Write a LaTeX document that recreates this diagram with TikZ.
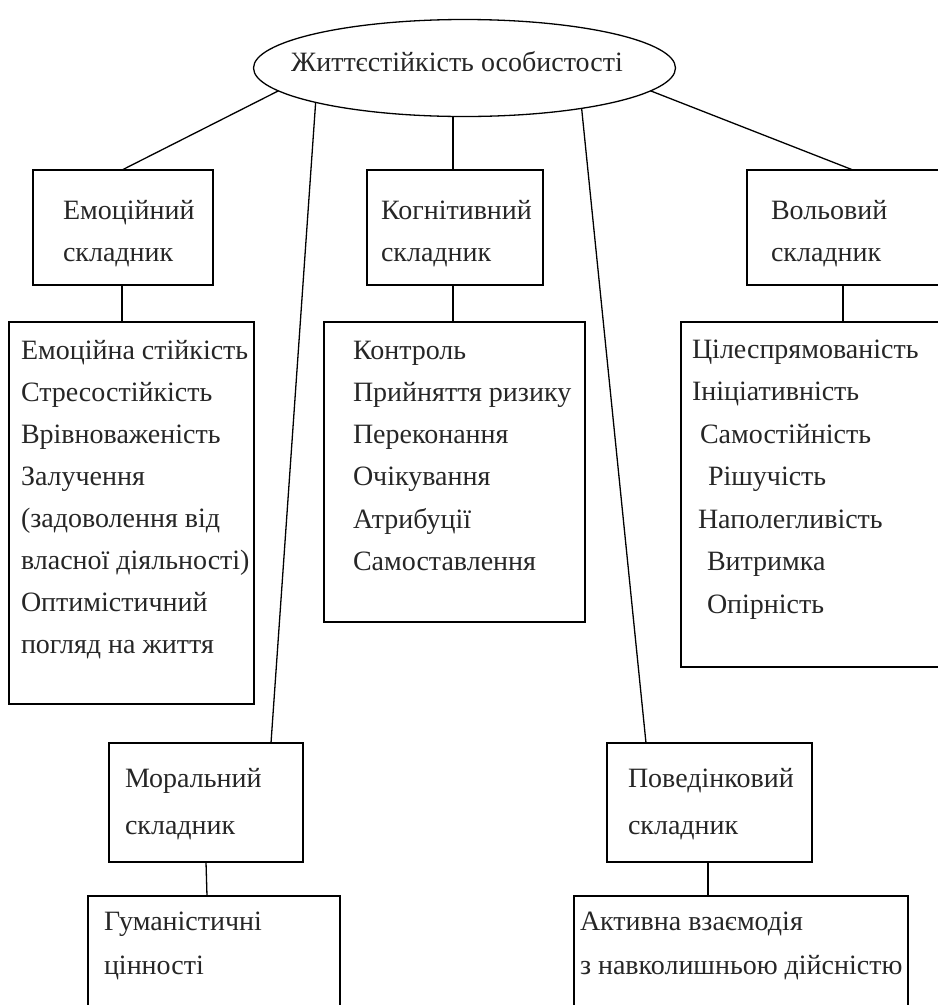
\documentclass[tikz,border=0pt]{standalone}
\usepackage{fontspec}
\setmainfont{Liberation Serif}
\usetikzlibrary{shapes.geometric,fit}
\begin{document}
\begin{tikzpicture}[x=1pt,y=-1pt,
  every node/.style={inner sep=0pt, outer sep=0pt},
  txt/.style={font=\fontsize{28}{42}\selectfont, anchor=base west, text=black!85},
  boxframe/.style={draw, line width=1.3pt, fit={#1}},
  link/.style={line width=1.3pt}
]
\useasboundingbox (0,0) rectangle (938,1005);
\clip (0,0) rectangle (938,1005);

% root ellipse
\node[draw, ellipse, line width=1.3pt, minimum width=422pt, minimum height=97pt] (root) at (464.5,68) {};
\node[txt, anchor=base] (roottxt) at (457,71) {Життєстійкість особистості};

% second level boxes
\node[boxframe={(33,170) (213,285)}] (emo) {};
\node[txt] (emo1) at (63,219) {Емоційний};
\node[txt] (emo2) at (63,261) {складник};

\node[boxframe={(367,170) (543,285)}] (cog) {};
\node[txt] (cog1) at (381,219) {Когнітивний};
\node[txt] (cog2) at (381,261) {складник};

\node[boxframe={(747,170) (960,285)}] (vol) {};
\node[txt] (vol1) at (771,219) {Вольовий};
\node[txt] (vol2) at (771,261) {складник};

% lists
\node[boxframe={(9,322) (254,704)}] (emolist) {};
\foreach \t [count=\i from 0] in {{Емоційна стійкість},{Стресостійкість},{Врівноваженість},{Залучення},{(задоволення від},{власної діяльності)},{Оптимістичний},{погляд на життя}}
  \node[txt] (el\i) at (21,{359+42*\i}) {\t};

\node[boxframe={(324,322) (585,622)}] (coglist) {};
\foreach \t [count=\i from 0] in {Контроль,Прийняття ризику,Переконання,Очікування,Атрибуції,Самоставлення}
  \node[txt] (cl\i) at (353,{359+42.3*\i}) {\t};

\node[boxframe={(681,322) (960,667)}] (vollist) {};
\foreach \t/\x [count=\i from 0] in {Цілеспрямованість/692,Ініціативність/692,Самостійність/700,Рішучість/708,Наполегливість/698,Витримка/707,Опірність/707}
  \node[txt] (vl\i) at (\x,{358+42.5*\i}) {\t};

% lower boxes
\node[boxframe={(109,743) (303,862)}] (mor) {};
\node[txt] (mor1) at (125,787) {Моральний};
\node[txt] (mor2) at (125,834) {складник};

\node[boxframe={(607,743) (812,862)}] (beh) {};
\node[txt] (beh1) at (628,787) {Поведінковий};
\node[txt] (beh2) at (628,834) {складник};

\node[boxframe={(88,896) (340,1030)}] (morlist) {};
\node[txt] (ml1) at (104,930) {Гуманістичні};
\node[txt] (ml2) at (104,974) {цінності};

\node[boxframe={(574,896) (908,1030)}] (behlist) {};
\node[txt] (bl1) at (580,930) {Активна взаємодія};
\node[txt] (bl2) at (580,974) {з навколишньою дійсністю};

% connectors
\draw[link] (root.187.2) -- (emo.north -| 122,0);
\draw[link] (root.193.2) -- (mor.north -| 271,0);
\draw[link] (cog.north -| 453,0) -- (root.south -| 453,0);
\draw[link] (root.341.9) -- (beh.north -| 646,0);
\draw[link] (root.353.4) -- (vol.north -| 853,0);
\draw[link] (emo.south -| 122,0) -- (emolist.north -| 122,0);
\draw[link] (cog.south -| 453,0) -- (coglist.north -| 453,0);
\draw[link] (vol.south -| 843,0) -- (vollist.north -| 843,0);
\draw[link] (mor.south -| 206,0) -- (morlist.north -| 207,0);
\draw[link] (beh.south -| 708,0) -- (behlist.north -| 708,0);
\end{tikzpicture}
\end{document}
